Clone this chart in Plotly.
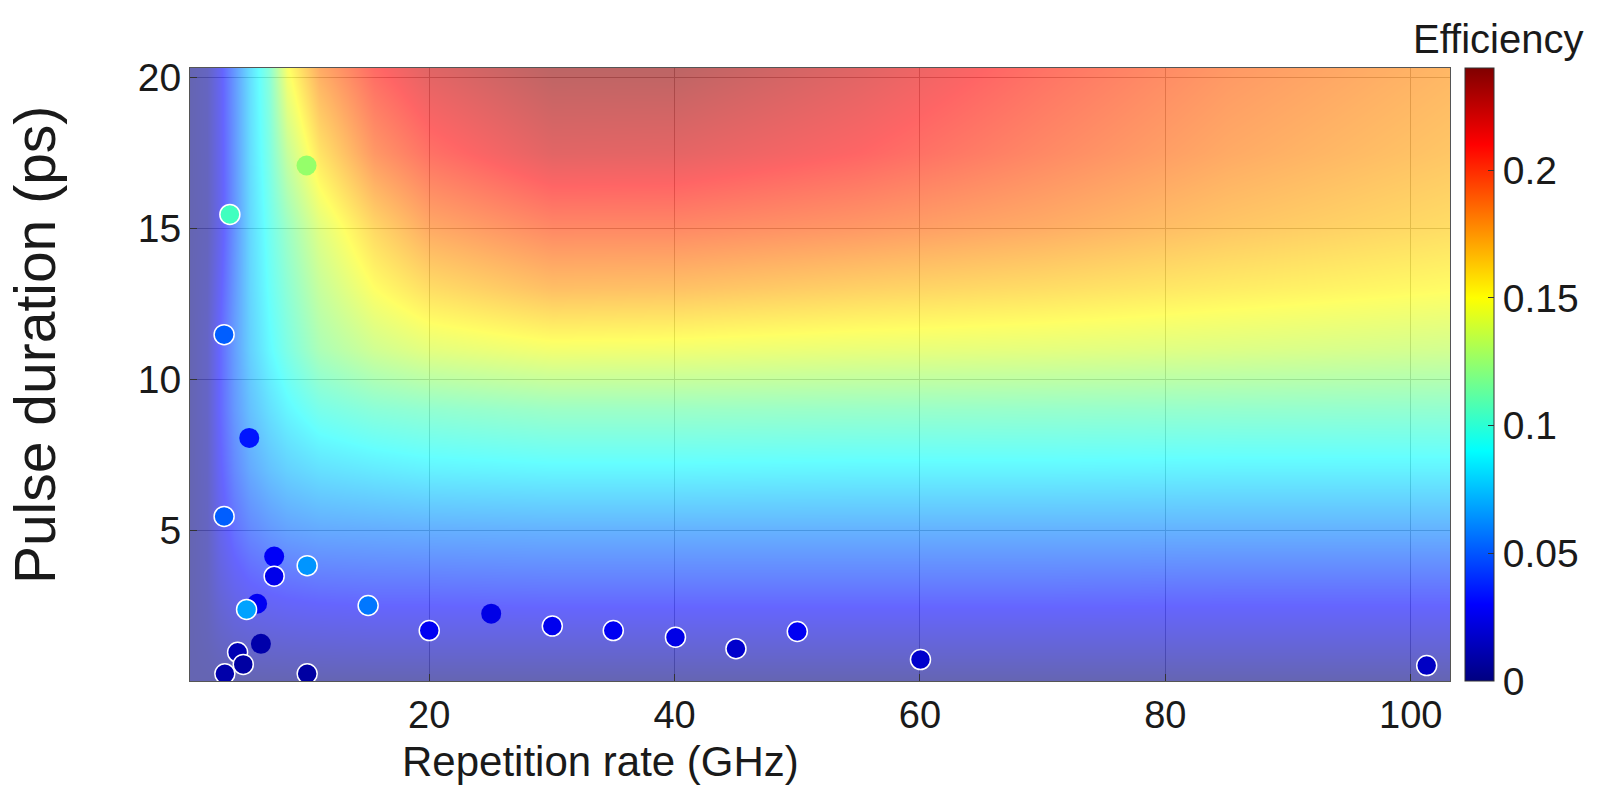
import plotly.graph_objects as go

# Efficiency map sampled on a (repetition rate, pulse duration) grid
rep_grid = [0.5, 1.9, 2.9, 4.1, 5.4, 6.9, 8.4, 11, 15.5, 20, 30, 40, 55, 70, 85, 103.2]
dur_grid = [0, 1.5, 3, 5, 7, 9, 11, 13, 15, 17.5, 20.3]

eff_d0 = [0, 0, 0, 0, 0, 0, 0, 0, 0, 0, 0, 0, 0, 0, 0, 0]
eff_d1_5 = [0, 0.003, 0.008, 0.012, 0.014, 0.015, 0.016, 0.017, 0.018, 0.018, 0.018, 0.018, 0.018, 0.018, 0.018, 0.018]
eff_d3 = [0, 0.005, 0.015, 0.023, 0.028, 0.031, 0.033, 0.035, 0.036, 0.036, 0.037, 0.037, 0.037, 0.037, 0.036, 0.036]
eff_d5 = [0, 0.006, 0.022, 0.035, 0.044, 0.050, 0.054, 0.057, 0.058, 0.059, 0.060, 0.060, 0.060, 0.060, 0.060, 0.060]
eff_d7 = [0, 0.007, 0.027, 0.044, 0.057, 0.066, 0.072, 0.078, 0.082, 0.085, 0.087, 0.087, 0.086, 0.086, 0.085, 0.085]
eff_d9 = [0, 0.008, 0.030, 0.050, 0.066, 0.078, 0.087, 0.098, 0.105, 0.108, 0.112, 0.112, 0.111, 0.110, 0.109, 0.108]
eff_d11 = [0, 0.008, 0.030, 0.052, 0.072, 0.088, 0.100, 0.118, 0.132, 0.140, 0.146, 0.145, 0.142, 0.140, 0.137, 0.133]
eff_d13 = [0, 0.006, 0.026, 0.050, 0.074, 0.092, 0.106, 0.128, 0.150, 0.163, 0.175, 0.174, 0.168, 0.163, 0.157, 0.151]
eff_d15 = [0, 0.004, 0.022, 0.048, 0.075, 0.095, 0.112, 0.138, 0.165, 0.183, 0.196, 0.196, 0.190, 0.182, 0.172, 0.163]
eff_d17_5 = [0, 0.005, 0.023, 0.049, 0.077, 0.100, 0.128, 0.160, 0.190, 0.205, 0.221, 0.220, 0.210, 0.196, 0.183, 0.172]
eff_d20_3 = [0, 0.006, 0.024, 0.050, 0.078, 0.105, 0.148, 0.182, 0.208, 0.222, 0.236, 0.236, 0.222, 0.205, 0.190, 0.178]

eff_map = [eff_d0, eff_d1_5, eff_d3, eff_d5, eff_d7, eff_d9, eff_d11,
           eff_d13, eff_d15, eff_d17_5, eff_d20_3]

# Reported devices
dev_rate = [3.75, 10.0, 3.28, 3.28, 5.33, 7.36, 7.36, 10.05, 5.97, 5.11, 15.02, 20.0,
            25.05, 30.03, 35.0, 40.07, 45.0, 50.0, 60.04, 101.3, 6.28, 4.38, 4.84, 3.34, 10.05]
dev_dur = [15.45, 17.07, 11.47, 5.45, 8.05, 4.12, 3.47, 3.82, 2.56, 2.37, 2.50, 1.67,
           2.23, 1.82, 1.67, 1.45, 1.07, 1.64, 0.71, 0.51, 1.23, 0.95, 0.55, 0.24, 0.24]
dev_eff = [0.105, 0.125, 0.052, 0.052, 0.035, 0.028, 0.025, 0.065, 0.027, 0.068, 0.058, 0.027,
           0.024, 0.026, 0.027, 0.024, 0.018, 0.027, 0.018, 0.016, 0.010, 0.012, 0.008, 0.010, 0.008]
dev_outlined = [1, 0, 1, 1, 0, 0, 1, 1, 0, 1, 1, 1,
                0, 1, 1, 1, 1, 1, 1, 1, 0, 1, 1, 1, 1]

cb_ticks = [0, 0.05, 0.1, 0.15, 0.2]
cb_ticktext = ["0", "0.05", "0.1", "0.15", "0.2"]
x_ticks = [20, 40, 60, 80, 100]
y_ticks = [5, 10, 15, 20]

jet = [[0.0, "rgb(0,0,128)"], [0.125, "rgb(0,0,255)"], [0.375, "rgb(0,255,255)"],
       [0.625, "rgb(255,255,0)"], [0.875, "rgb(255,0,0)"], [1.0, "rgb(128,0,0)"]]

FONT = "Liberation Sans, Arial, Helvetica, sans-serif"
INK = "#1a1a1a"
EMAX = 0.24

fig = go.Figure()

fig.add_trace(go.Heatmap(
    x=rep_grid, y=dur_grid, z=eff_map,
    colorscale=jet, zmin=0, zmax=EMAX, zsmooth="best",
    opacity=0.6, showscale=False, hoverinfo="skip",
))

edge_colors = ["white" if o else "rgba(0,0,0,0)" for o in dev_outlined]

fig.add_trace(go.Scatter(
    x=dev_rate, y=dev_dur, mode="markers",
    marker=dict(
        size=20, color=dev_eff, colorscale=jet, cmin=0, cmax=EMAX,
        line=dict(color=edge_colors, width=1.5),
        showscale=True,
        colorbar=dict(
            thickness=29, thicknessmode="pixels",
            len=1, lenmode="fraction",
            x=1.0119, xanchor="left", xpad=0,
            y=0.5, yanchor="middle", ypad=0,
            outlinewidth=1, outlinecolor="#333333",
            tickvals=cb_ticks, ticktext=cb_ticktext,
            ticks="inside", ticklen=6, tickcolor="#333333",
            tickfont=dict(family=FONT, size=39, color=INK),
        ),
    ),
    showlegend=False,
))

fig.update_layout(
    width=1603, height=801,
    margin=dict(l=190, r=153, t=68, b=120),
    paper_bgcolor="white", plot_bgcolor="white",
    font=dict(family=FONT, color=INK),
    xaxis=dict(
        range=[0.5, 103.2], tickvals=x_ticks, ticks="inside", ticklen=7,
        tickcolor="#333333", showgrid=True, gridcolor="#b8b8b8", gridwidth=1,
        showline=True, linecolor="#555555", linewidth=1, mirror=True,
        zeroline=False, tickfont=dict(size=38, color=INK),
    ),
    yaxis=dict(
        range=[0, 20.3], tickvals=y_ticks, ticks="inside", ticklen=7,
        tickcolor="#333333", showgrid=True, gridcolor="#b8b8b8", gridwidth=1,
        showline=True, linecolor="#555555", linewidth=1, mirror=True,
        zeroline=False, tickfont=dict(size=39, color=INK),
    ),
    annotations=[
        dict(text="Repetition rate (GHz)", xref="paper", yref="paper",
             x=0.3254, y=-0.132, xanchor="center", yanchor="middle",
             showarrow=False, font=dict(size=42, color=INK)),
        dict(text="Pulse duration (ps)", xref="paper", yref="paper",
             x=-0.1230, y=0.548, xanchor="center", yanchor="middle",
             textangle=-90, showarrow=False, font=dict(size=57, color=INK)),
        dict(text="Efficiency", xref="paper", yref="paper",
             x=1.107, y=1.047, xanchor="right", yanchor="middle",
             showarrow=False, font=dict(size=40, color=INK)),
    ],
)

fig.write_html("out.html")
